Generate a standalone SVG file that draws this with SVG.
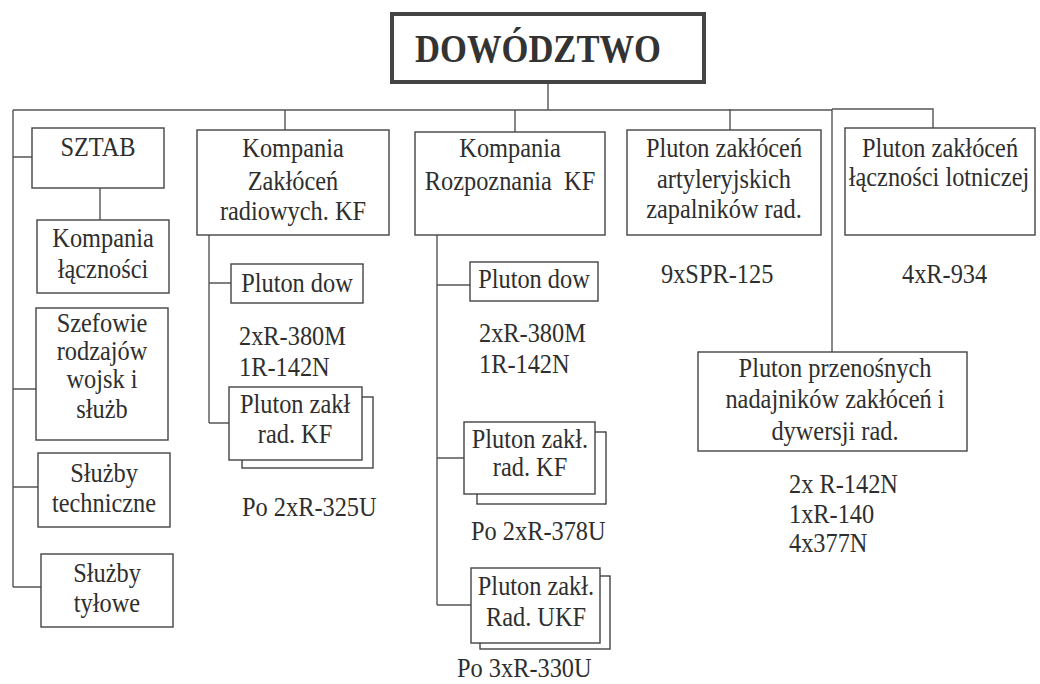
<svg xmlns="http://www.w3.org/2000/svg" width="1040" height="684" viewBox="0 0 1040 684">
<style>
.bx{fill:#fff;stroke:#444;stroke-width:1.4}
.ln{fill:none;stroke:#555;stroke-width:1.4}
.t{font-family:"Liberation Serif","Times New Roman",serif;font-size:28px;fill:#2e2e2e;transform-box:fill-box;transform:scaleX(0.87)}
.c{text-anchor:middle;transform-origin:50% 50%}
.l{transform-origin:0% 50%}
</style>
<rect width="1040" height="684" fill="#fff"/>
<g id="connectors">
<path class="ln" d="M548,83 V110 M13,110 H832 M832,109 H933 V128 M13,110 V587 M13,157 H32 M13,389 H36 M13,487 H38 M13,587 H41 M100,188 V220 M285,110 V130 M515,110 V133 M730,109 V130 M832,109 V352"/>
<path class="ln" d="M209,235 V423 M209,283 H231 M209,423 H229"/>
<path class="ln" d="M437,235 V605 M437,285 H470 M437,458 H464 M437,605 H471"/>
</g>
<g id="dowodztwo">
<rect x="392" y="14" width="312" height="68" fill="#fff" stroke="#444" stroke-width="4"/>
<text x="415" y="62" font-family="Liberation Serif,serif" font-weight="bold" font-size="39" fill="#333" textLength="246" lengthAdjust="spacingAndGlyphs">DOWÓDZTWO</text>
</g>
<g id="sztab">
<rect class="bx" x="32" y="128" width="132" height="60"/>
<text class="t c" x="98" y="156">SZTAB</text>
</g>
<g id="kompania-lacznosci">
<rect class="bx" x="37" y="220" width="132" height="73"/>
<text class="t c" x="103" y="247">Kompania</text>
<text class="t c" x="103" y="278">łączności</text>
</g>
<g id="szefowie">
<rect class="bx" x="36" y="308" width="132" height="132"/>
<text class="t c" x="102" y="332">Szefowie</text>
<text class="t c" x="102" y="360">rodzajów</text>
<text class="t c" x="102" y="388">wojsk i</text>
<text class="t c" x="102" y="418">służb</text>
</g>
<g id="sluzby-techniczne">
<rect class="bx" x="38" y="453" width="132" height="74"/>
<text class="t c" x="104" y="482">Służby</text>
<text class="t c" x="104" y="512">techniczne</text>
</g>
<g id="sluzby-tylowe">
<rect class="bx" x="41" y="554" width="132" height="73"/>
<text class="t c" x="107" y="582">Służby</text>
<text class="t c" x="107" y="612">tyłowe</text>
</g>
<g id="kompania-zaklocen">
<rect class="bx" x="197" y="130" width="192" height="105"/>
<text class="t c" x="293" y="157">Kompania</text>
<text class="t c" x="293" y="190">Zakłóceń</text>
<text class="t c" x="293" y="220">radiowych. KF</text>
</g>
<g id="pluton-dow-1">
<rect class="bx" x="231" y="264" width="132" height="39"/>
<text class="t c" x="297" y="292">Pluton dow</text>
<text class="t l" x="239" y="345">2xR-380M</text>
<text class="t l" x="239" y="376">1R-142N</text>
</g>
<g id="pluton-zakl-1">
<rect class="bx" x="242" y="397" width="131" height="71"/>
<rect class="bx" x="229" y="387" width="133" height="73"/>
<text class="t c" x="295" y="413">Pluton zakł</text>
<text class="t c" x="295" y="443">rad. KF</text>
<text class="t l" x="242" y="516">Po 2xR-325U</text>
</g>
<g id="kompania-rozpoznania">
<rect class="bx" x="415" y="132" width="190" height="103"/>
<text class="t c" x="510" y="157">Kompania</text>
<text class="t c" x="510" y="190" xml:space="preserve">Rozpoznania  KF</text>
</g>
<g id="pluton-dow-2">
<rect class="bx" x="470" y="262" width="128" height="39"/>
<text class="t c" x="534" y="288">Pluton dow</text>
<text class="t l" x="479" y="342">2xR-380M</text>
<text class="t l" x="479" y="373">1R-142N</text>
</g>
<g id="pluton-zakl-kf">
<rect class="bx" x="477" y="432" width="129" height="72"/>
<rect class="bx" x="464" y="422" width="131" height="72"/>
<text class="t c" x="530" y="448">Pluton zakł.</text>
<text class="t c" x="530" y="476">rad. KF</text>
<text class="t l" x="471" y="540">Po 2xR-378U</text>
</g>
<g id="pluton-zakl-ukf">
<rect class="bx" x="480" y="576" width="130" height="73"/>
<rect class="bx" x="471" y="568" width="129" height="75"/>
<text class="t c" x="536" y="595">Pluton zakł.</text>
<text class="t c" x="536" y="626">Rad. UKF</text>
<text class="t l" x="457" y="677">Po 3xR-330U</text>
</g>
<g id="pluton-artyleryjskich">
<rect class="bx" x="627" y="130" width="194" height="105"/>
<text class="t c" x="724" y="157">Pluton zakłóceń</text>
<text class="t c" x="724" y="188">artyleryjskich</text>
<text class="t c" x="724" y="218">zapalników rad.</text>
<text class="t l" x="661" y="283">9xSPR-125</text>
</g>
<g id="pluton-lotniczej">
<rect class="bx" x="845" y="128" width="190" height="107"/>
<text class="t c" x="940" y="157">Pluton zakłóceń</text>
<text class="t c" x="939" y="186">łączności lotniczej</text>
<text class="t l" x="902" y="283">4xR-934</text>
</g>
<g id="pluton-przenosnych">
<rect class="bx" x="698" y="352" width="269" height="99"/>
<text class="t c" x="835" y="377">Pluton przenośnych</text>
<text class="t c" x="835" y="408">nadajników zakłóceń i</text>
<text class="t c" x="835" y="440">dywersji rad.</text>
<text class="t l" x="789" y="493">2x R-142N</text>
<text class="t l" x="789" y="523">1xR-140</text>
<text class="t l" x="789" y="552">4x377N</text>
</g>
</svg>
